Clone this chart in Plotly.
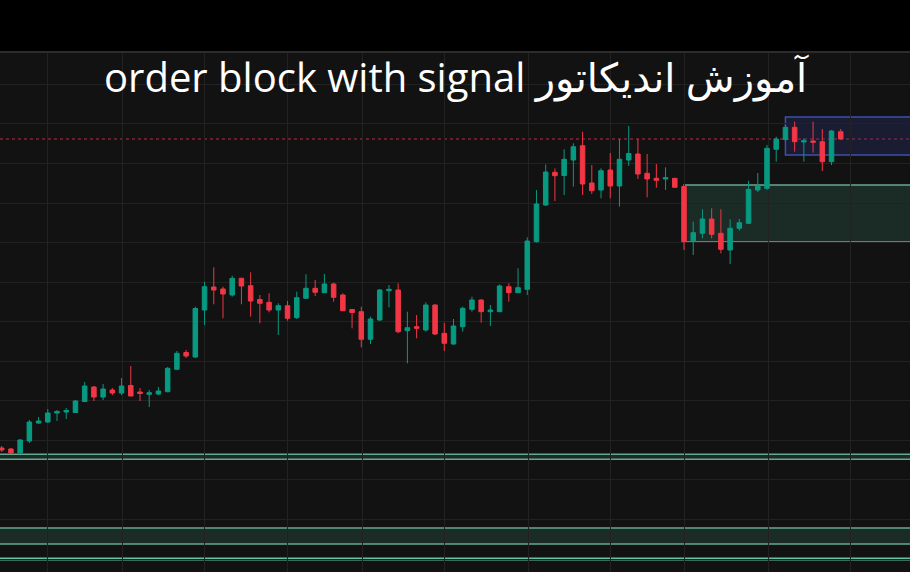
import plotly.graph_objects as go

# ---- candle data ----
candle_idx = list(range(92))
open_ = [152, 151, 147, 159, 177, 178, 187, 188, 187.5, 198.5,
         213, 203, 210, 207, 214.5, 208, 205.7, 206, 208.3, 230.7,
         247.5, 243, 290, 313, 311, 305, 321.7, 314.3, 300.5, 297.7,
         290, 294.3, 282.3, 301.7, 311.7, 307.3, 316, 305, 290.5, 288.3,
         260.7, 280, 309.3, 310, 269.3, 273.3, 270, 295, 266.7, 256,
         273.3, 290.7, 300, 288.3, 288.3, 313.3, 307.3, 310.7, 358.3, 395,
         427.7, 424.5, 440, 454.3, 417, 410, 430, 414, 440, 446,
         426.7, 421.7, 421, 421.7, 413.5, 359.3, 366.7, 381, 366.7, 350,
         371.7, 376.7, 410, 411.7, 450.7, 460.5, 472.7, 458, 459, 458.3,
         438.3, 468.3]
high = [154, 152, 161, 180, 183, 191, 190, 192, 200, 218,
        214, 216, 212, 222, 234, 212, 210, 213, 233, 249,
        250, 293.3, 318.3, 332.7, 313.3, 324.3, 322.3, 327.7, 305, 306.7,
        296.7, 299, 308.3, 325.7, 320, 326, 317.3, 306.7, 290.7, 293.3,
        283.3, 311, 315, 316.7, 288.3, 285, 297.7, 295.7, 277.3, 281,
        293.3, 303.3, 300.7, 295, 315.7, 316.7, 331.7, 362.7, 410, 435.5,
        431.5, 450.7, 456.7, 468.3, 435, 431.7, 447, 461, 474, 461,
        446, 436, 432.7, 422, 414, 378.3, 390.7, 391.7, 390.7, 380.7,
        381, 419.3, 427, 455, 463.3, 475, 478.3, 461.7, 478.3, 471,
        470, 471]
low = [148, 146, 146, 157, 176, 177, 179, 181, 187, 198,
       199, 200, 205, 205, 204, 199, 193, 205, 207.7, 230,
       242, 242, 275, 295.7, 281.7, 303.3, 295.7, 283.3, 276.7, 287.7,
       265, 279.3, 281, 301.7, 304, 307, 298.3, 289, 271.7, 252.7,
       256, 279, 292.7, 266.7, 236.7, 261.7, 268.3, 265, 249, 255.3,
       268.3, 288.3, 277.3, 274, 288, 298.3, 307, 305, 357.5, 394,
       399, 405, 413.3, 405, 406, 401.7, 401.7, 393.3, 434, 421,
       402.7, 412.3, 410, 412, 350, 345, 361.7, 361.7, 346.7, 336,
       369.3, 376, 408, 410, 438.3, 459, 448.3, 438.3, 447.3, 429,
       435, 460.5]
close = [150, 147, 160, 178, 179, 187, 188.5, 189.5, 199, 214,
         203, 211, 207, 214, 204, 206.5, 207.3, 209, 231.7, 246.7,
         244, 291.5, 313.3, 310, 306, 321.7, 314, 299, 296.7, 290,
         294.3, 281.7, 302.3, 311.7, 307.7, 316, 302.7, 289.3, 287.5, 260.7,
         281, 310, 310.7, 268.3, 272.3, 271.7, 295, 266, 256.7, 274,
         291.7, 300, 288.3, 290, 314, 307.3, 312.3, 359, 396, 428,
         424.3, 440.7, 453.3, 416, 409.3, 429.3, 414, 440.7, 446.5, 426,
         421, 419.7, 422.3, 412.7, 358.3, 367.3, 381, 365.7, 350.7, 371.7,
         377.3, 410.7, 414, 451.7, 461, 472.7, 458.3, 459.3, 457.7, 438.3,
         469, 461]

# ---- order-block zones (start candle, top, bottom) ----
zone_start = [85, 74, -20, -20, -20]
zone_top = [483, 415, 145.7, 72, 41.6]
zone_bottom = [445, 358, 140.7, 56, 40.4]
zone_kind = ["bear", "bull", "bull", "bull", "line"]

# vertical grid positions (session breaks, candle index)
vgrid = [5, 13.1, 22, 31, 39.1, 48, 57.1, 66, 74.1, 83.2, 92.1]

title_text = "\u202bآموزش اندیکاتور order block with signal\u202c"

UP = "#089981"
DOWN = "#F23645"

fig = go.Figure()
fig.add_trace(go.Candlestick(
    x=candle_idx, open=open_, high=high, low=low, close=close,
    increasing=dict(line=dict(color=UP, width=1), fillcolor=UP),
    decreasing=dict(line=dict(color=DOWN, width=1), fillcolor=DOWN),
    showlegend=False, hoverinfo="skip",
))

shapes = []
styles = {
    "bear": dict(fill="rgba(45,55,130,0.28)", line="#3f4fae", w=1.5),
    "bull": dict(fill="rgba(60,130,105,0.22)", line="#64a892", w=1.5),
    "line": dict(fill="#63c3a0", line="#63c3a0", w=1.8),
}
for x0, t, b, k in zip(zone_start, zone_top, zone_bottom, zone_kind):
    st = styles[k]
    shapes.append(dict(type="rect", xref="x", yref="y", x0=x0, x1=200,
                       y0=b, y1=t, fillcolor=st["fill"],
                       line=dict(color=st["line"], width=st["w"]), layer="below"))

# last price line
shapes.append(dict(type="line", xref="paper", yref="y", x0=0, x1=1,
                   y0=close[-1], y1=close[-1],
                   line=dict(color="#c02a44", width=1, dash="dot"), layer="below"))
# top separator
shapes.append(dict(type="line", xref="paper", yref="paper", x0=0, x1=1,
                   y0=1.0, y1=1.0, line=dict(color="#2c2c2c", width=2)))

fig.update_layout(
    width=910, height=572,
    margin=dict(l=0, r=0, t=52, b=0),
    paper_bgcolor="#000000",
    plot_bgcolor="#121212",
    shapes=shapes,
    hovermode=False,
    xaxis=dict(range=[-0.184, 98.51], showticklabels=False, tickvals=vgrid,
               showgrid=True, gridcolor="#222222", gridwidth=1, zeroline=False,
               rangeslider=dict(visible=False), fixedrange=True, ticks=""),
    yaxis=dict(range=[28, 548], showticklabels=False, tick0=41, dtick=39.55,
               showgrid=True, gridcolor="#222222", gridwidth=1, zeroline=False,
               fixedrange=True, ticks=""),
    annotations=[dict(
        text=title_text, xref="paper", yref="paper", x=0.502, y=0.952,
        xanchor="center", yanchor="middle", showarrow=False,
        font=dict(family="Open Sans, DejaVu Sans", size=40, color="#ffffff",
                  weight=500),
    )],
)

fig.write_html(
    "out.html",
    config={"displayModeBar": False},
    post_script="document.body.style.margin='0';document.body.style.background='#000';",
)
